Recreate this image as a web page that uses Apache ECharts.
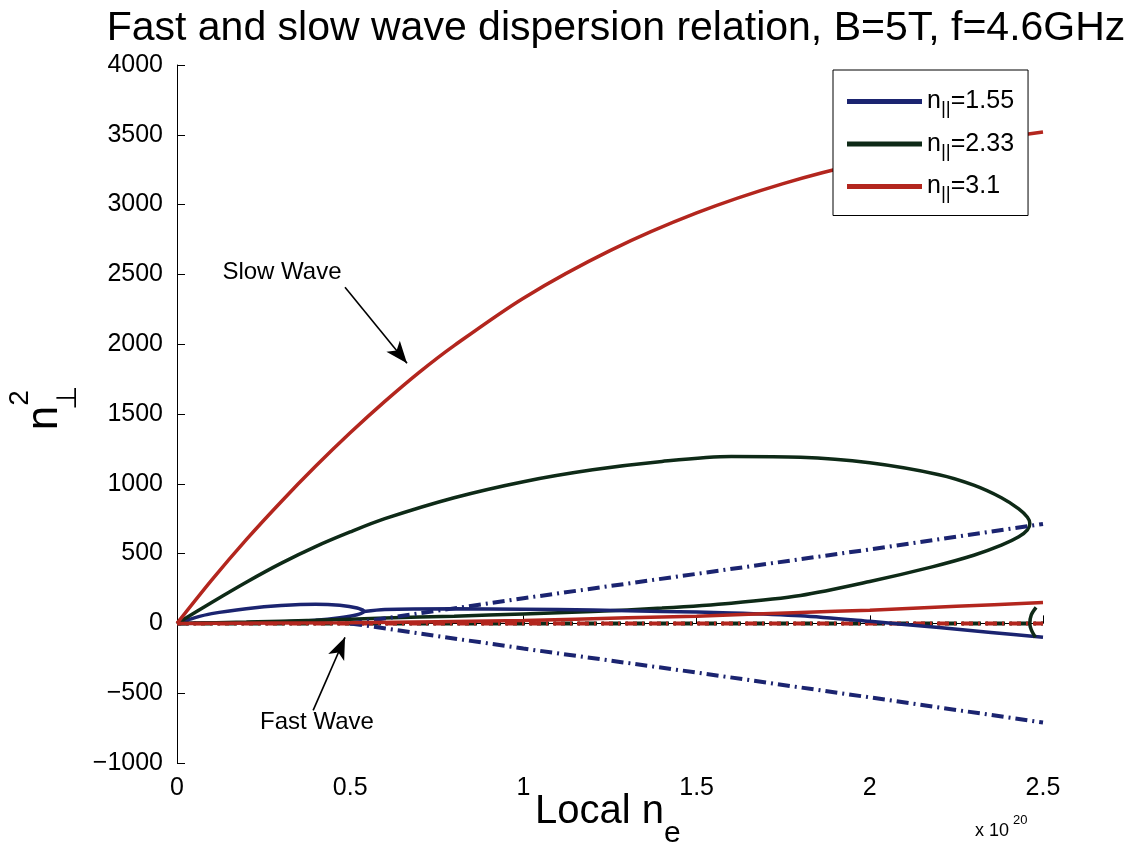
<!DOCTYPE html>
<html>
<head>
<meta charset="utf-8">
<script src="https://cdn.jsdelivr.net/npm/echarts@6/dist/echarts.min.js"></script>
<style>
  html, body { margin: 0; padding: 0; background: #fff; }
  #main { width: 1135px; height: 850px; }
</style>
</head>
<body>
<div id="main"></div>
<script>
// 坐标轴刻度
const xTicks = [0, 0.5, 1, 1.5, 2, 2.5];
const yTicks = [-1000, -500, 0, 500, 1000, 1500, 2000, 2500, 3000, 3500, 4000];
const legendNames = ['n||=1.55', 'n||=2.33', 'n||=3.1'];

// n|| = 1.55  (蓝)
const blueLoop = [[0, 0], [0.05, 40], [0.1, 70], [0.2, 105], [0.3, 128], [0.4, 138], [0.47, 130], [0.52, 110], [0.54, 85],
  [0.52, 62], [0.47, 40], [0.4, 22], [0.3, 10], [0.2, 5], [0.1, 2], [0, 0]];
const blueReal = [[0.54, 85], [0.6, 100], [0.8, 105], [1.0, 102], [1.2, 96], [1.4, 86], [1.6, 75], [1.8, 55], [2.0, 15],
  [2.2, -30], [2.35, -65], [2.5, -100]];
const blueImagUp = [[0.5, 0], [1.0, 180], [1.5, 355], [2.0, 530], [2.5, 712]];
const blueImagDown = [[0.5, 0], [1.0, -180], [1.5, -352], [2.0, -530], [2.5, -710]];

// n|| = 2.33  (绿)
const greenLoop = [[0, 0], [0.1, 150], [0.2, 295], [0.3, 430], [0.4, 550], [0.5, 655], [0.6, 750], [0.8, 900], [1.0, 1015],
  [1.2, 1100], [1.4, 1160], [1.6, 1195], [1.8, 1190], [2.0, 1150], [2.2, 1065], [2.3, 990], [2.38, 900], [2.43, 820],
  [2.455, 760], [2.462, 716], [2.455, 670], [2.43, 620], [2.38, 560], [2.3, 488], [2.18, 405], [2.0, 300], [1.8, 200],
  [1.6, 145], [1.4, 110], [1.2, 85], [1.0, 68], [0.8, 52], [0.6, 38], [0.4, 22], [0.2, 10], [0, 0]];
const greenFast = [[2.48, 115], [2.466, 60], [2.462, 0], [2.466, -45], [2.478, -100]];
const greenZero = [[0, 0], [2.5, 0]];

// n|| = 3.1  (红)
const redSlow = [[0, 0], [0.1, 310], [0.2, 600], [0.3, 870], [0.4, 1125], [0.5, 1365], [0.6, 1590], [0.7, 1800], [0.8, 1990],
  [1.0, 2330], [1.25, 2670], [1.5, 2940], [1.75, 3150], [2.0, 3310], [2.25, 3430], [2.5, 3520]];
const redFast = [[0, 0], [0.5, 5], [1.0, 20], [1.3, 40], [1.5, 52], [1.8, 78], [2.0, 95], [2.25, 122], [2.5, 150]];
const redZero = [[0, 0], [2.5, 0]];

// 注释箭头
const slowArrow = [[0.485, 2408], [0.664, 1863]];
const fastArrow = [[0.393, -623], [0.485, -100]];
const slowText = [0.303, 2515];
const fastText = [0.404, -709];

const BLUE = '#1b2470';
const GREEN = '#0e2a17';
const RED = '#b3261e';
const DASHDOT = [12, 5, 2, 5];
const FONT = 'Liberation Sans, Arial, Helvetica, sans-serif';

const line = (name, data, color, dashed, z) => ({
  name,
  type: 'line',
  data,
  color,
  itemStyle: { color },
  showSymbol: false,
  symbol: 'none',
  smooth: dashed ? false : 0.3,
  lineStyle: { color, width: dashed ? 4 : 3.5, type: dashed ? DASHDOT : 'solid' },
  z: z || 2,
  silent: true
});

const myChart = echarts.init(document.getElementById('main'));

const option = {
  animation: false,
  backgroundColor: '#fff',
  textStyle: { fontFamily: FONT },
  title: {
    text: 'Fast and slow wave dispersion relation, B=5T, f=4.6GHz',
    left: 611,
    textAlign: 'center',
    top: 3,
    textStyle: { fontSize: 41, fontWeight: 'normal', color: '#000', fontFamily: FONT }
  },
  grid: { left: 177, right: 92, top: 65, bottom: 87, containLabel: false },
  xAxis: {
    type: 'value',
    min: xTicks[0],
    max: xTicks[xTicks.length - 1],
    interval: 0.5,
    axisLine: { lineStyle: { color: '#000', width: 1 } },
    axisTick: { inside: true, length: 8, lineStyle: { color: '#000' } },
    splitLine: { show: false },
    axisLabel: { fontSize: 25, color: '#000', margin: 13, fontFamily: FONT }
  },
  yAxis: {
    type: 'value',
    min: yTicks[0],
    max: yTicks[yTicks.length - 1],
    interval: 500,
    axisLine: { show: true, lineStyle: { color: '#000', width: 1 } },
    axisTick: { show: true, inside: true, length: 8, lineStyle: { color: '#000' } },
    splitLine: { show: false },
    axisLabel: {
      fontSize: 25, color: '#000', margin: 14, fontFamily: FONT,
      formatter: v => String(v).replace('-', '\u2212')
    }
  },
  legend: {
    data: legendNames,
    orient: 'vertical',
    left: 833,
    top: 70,
    padding: [19, 14, 12, 14],
    itemGap: 13,
    itemWidth: 75,
    itemHeight: 5,
    icon: 'rect',
    borderColor: '#000',
    borderWidth: 1,
    backgroundColor: '#fff',
    selectedMode: false,
    formatter: name => '{n|n}{s|||}{n|=' + name.split('=')[1] + '}',
    textStyle: {
      color: '#000',
      rich: {
        n: { fontSize: 25, lineHeight: 34, color: '#000', fontFamily: FONT, verticalAlign: 'middle' },
        s: { fontSize: 19, lineHeight: 12, color: '#000', fontFamily: FONT, verticalAlign: 'bottom' }
      }
    }
  },
  series: [
    line(legendNames[0], blueLoop, BLUE, false, 3),
    line(legendNames[1], greenLoop, GREEN, false, 3),
    line(legendNames[2], redSlow, RED, false, 3),
    line(legendNames[0], blueReal, BLUE, false, 3),
    line(legendNames[0], blueImagUp, BLUE, true, 3),
    line(legendNames[0], blueImagDown, BLUE, true, 3),
    line(legendNames[1], greenFast, GREEN, false, 3),
    line(legendNames[1], greenZero, GREEN, true, 2),
    line(legendNames[2], redFast, RED, false, 3),
    Object.assign(line(legendNames[2], redZero, RED, true, 2), {
      lineStyle: { color: RED, width: 4, type: DASHDOT, dashOffset: 8 }
    }),
    {
      name: 'annot',
      type: 'line',
      data: [],
      silent: true,
      markLine: {
        silent: true,
        symbol: ['none', 'arrow'],
        symbolSize: [13, 22],
        label: { show: false },
        lineStyle: { color: '#000', width: 1.6, type: 'solid' },
        data: [
          [{ coord: slowArrow[0] }, { coord: slowArrow[1] }],
          [{ coord: fastArrow[0] }, { coord: fastArrow[1] }]
        ]
      },
      markPoint: {
        silent: true,
        symbol: 'circle',
        symbolSize: 0,
        label: { show: true, position: 'inside', color: '#000', fontSize: 24, fontFamily: FONT },
        data: [
          { coord: slowText, value: 'Slow Wave', label: { formatter: 'Slow Wave' } },
          { coord: fastText, value: 'Fast Wave', label: { formatter: 'Fast Wave' } }
        ]
      }
    }
  ],
  graphic: [
    // y 轴名称 n⊥²（旋转）
    { type: 'text', x: 45, y: 418, rotation: Math.PI / 2,
      style: { text: 'n', font: '44px ' + FONT, fill: '#000', textAlign: 'center', textVerticalAlign: 'middle', align: 'center', verticalAlign: 'middle' } },
    { type: 'text', x: 20, y: 398, rotation: Math.PI / 2,
      style: { text: '2', font: '28px ' + FONT, fill: '#000', textAlign: 'center', textVerticalAlign: 'middle', align: 'center', verticalAlign: 'middle' } },
    { type: 'text', x: 68, y: 398, rotation: Math.PI / 2,
      style: { text: '\u22A5', font: '28px ' + FONT, fill: '#000', textAlign: 'center', textVerticalAlign: 'middle', align: 'center', verticalAlign: 'middle' } },
    // x 轴名称 Local n_e
    { type: 'text', x: 535, y: 812,
      style: { text: 'Local n', font: '40px ' + FONT, fill: '#000', textAlign: 'left', textVerticalAlign: 'middle', align: 'left', verticalAlign: 'middle' } },
    { type: 'text', x: 664, y: 834,
      style: { text: 'e', font: '30px ' + FONT, fill: '#000', textAlign: 'left', textVerticalAlign: 'middle', align: 'left', verticalAlign: 'middle' } },
    // x 10^20
    { type: 'text', x: 975, y: 831,
      style: { text: 'x 10', font: '18px ' + FONT, fill: '#000', textAlign: 'left', textVerticalAlign: 'middle', align: 'left', verticalAlign: 'middle' } },
    { type: 'text', x: 1013, y: 820,
      style: { text: '20', font: '13px ' + FONT, fill: '#000', textAlign: 'left', textVerticalAlign: 'middle', align: 'left', verticalAlign: 'middle' } }
  ]
};

myChart.setOption(option);
</script>
</body>
</html>
